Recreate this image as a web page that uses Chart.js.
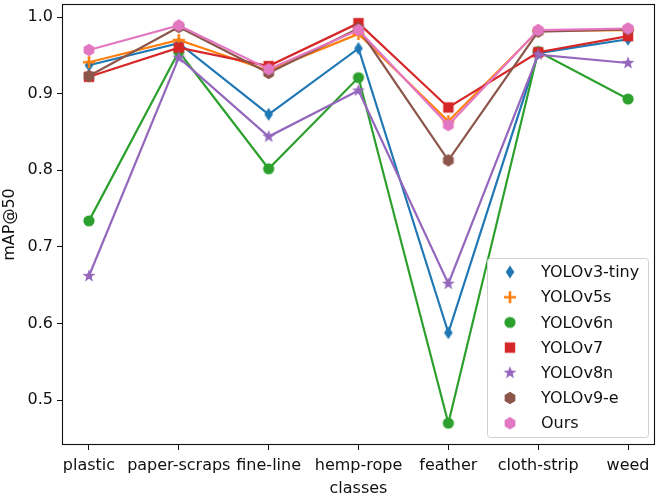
<!DOCTYPE html>
<html>
<head>
<meta charset="utf-8">
<script src="https://cdn.jsdelivr.net/npm/chart.js@4"></script>
<style>
html,body{margin:0;padding:0;background:#fff;}
#wrap{width:661px;height:496px;position:relative;}
</style>
</head>
<body>
<div id="wrap"><canvas id="c" width="661" height="496"></canvas></div>
<script>
const categories = ['plastic','paper-scraps','fine-line','hemp-rope','feather','cloth-strip','weed'];
const yTicks = [0.5,0.6,0.7,0.8,0.9,1.0];
const seriesNames = ['YOLOv3-tiny','YOLOv5s','YOLOv6n','YOLOv7','YOLOv8n','YOLOv9-e','Ours'];
const yolov3tiny = [0.937,0.966,0.873,0.959,0.588,0.953,0.971];
const yolov5s    = [0.941,0.970,0.930,0.978,0.864,0.982,0.983];
const yolov6n    = [0.734,0.955,0.802,0.921,0.470,0.955,0.893];
const yolov7     = [0.922,0.960,0.936,0.992,0.882,0.954,0.975];
const yolov8n    = [0.662,0.947,0.844,0.904,0.652,0.951,0.940];
const yolov9e    = [0.923,0.987,0.927,0.985,0.813,0.981,0.984];
const ours       = [0.957,0.989,0.932,0.983,0.859,0.983,0.985];
const seriesValues = [yolov3tiny,yolov5s,yolov6n,yolov7,yolov8n,yolov9e,ours];
const colors = ['#1f77b4','#ff7f0e','#2ca02c','#d62728','#9467bd','#8c564b','#e377c2'];
const markers = ['diamond','plus','circle','square','star','hexagon','hexagon'];

function makeMarker(kind, color){
  const s = 18;
  const cv = document.createElement('canvas');
  cv.width = s; cv.height = s;
  const g = cv.getContext('2d');
  const c = s/2;
  g.fillStyle = color; g.strokeStyle = color;
  g.beginPath();
  if (kind === 'diamond'){
    g.moveTo(c, c-6.5); g.lineTo(c+4.3, c); g.lineTo(c, c+6.5); g.lineTo(c-4.3, c); g.closePath(); g.fill();
  } else if (kind === 'plus'){
    g.lineWidth = 2.6;
    g.moveTo(c-6, c); g.lineTo(c+6, c); g.moveTo(c, c-6); g.lineTo(c, c+6); g.stroke();
  } else if (kind === 'circle'){
    g.arc(c, c, 5.6, 0, Math.PI*2); g.fill();
  } else if (kind === 'square'){
    g.rect(c-5.2, c-5.2, 10.4, 10.4); g.fill();
  } else if (kind === 'star'){
    const R = 6.8, r = 2.8;
    for (let i=0;i<10;i++){
      const a = -Math.PI/2 + i*Math.PI/5;
      const rr = i%2===0 ? R : r;
      const x = c + rr*Math.cos(a), y = c + rr*Math.sin(a);
      if (i===0) g.moveTo(x,y); else g.lineTo(x,y);
    }
    g.closePath(); g.fill();
  } else if (kind === 'hexagon'){
    const R = 6.2;
    for (let i=0;i<6;i++){
      const a = -Math.PI/2 + i*Math.PI/3;
      const x = c + R*Math.cos(a), y = c + R*Math.sin(a);
      if (i===0) g.moveTo(x,y); else g.lineTo(x,y);
    }
    g.closePath(); g.fill();
  }
  return cv;
}

const markerImgs = markers.map((m,i)=>makeMarker(m, colors[i]));

const datasets = seriesNames.map((name,i)=>({
  label: name,
  data: seriesValues[i].map((v,j)=>({x:j, y:v})),
  borderColor: colors[i],
  backgroundColor: colors[i],
  borderWidth: 2.2,
  pointStyle: markerImgs[i],
  pointRadius: 6,
  pointHoverRadius: 6,
  tension: 0,
  fill: false,
  order: seriesNames.length - i
}));

const frame = {
  id: 'frame',
  afterDatasetsDraw(chart){
    const {ctx, chartArea:a} = chart;
    ctx.save();
    ctx.strokeStyle = '#111';
    ctx.lineWidth = 1.1;
    ctx.strokeRect(a.left+0.5, a.top+0.5, a.right-a.left-1, a.bottom-a.top-1);
    ctx.restore();
  }
};

const legendBox = {
  id: 'legendBox',
  afterDraw(chart){
    const ctx = chart.ctx;
    const x0 = 487, y0 = 258, w = 161, h = 179;
    ctx.save();
    ctx.fillStyle = 'rgba(255,255,255,0.85)';
    ctx.strokeStyle = '#d0d0d0';
    ctx.lineWidth = 1;
    ctx.beginPath();
    ctx.roundRect(x0+0.5, y0+0.5, w, h, 3);
    ctx.fill(); ctx.stroke();
    ctx.font = '16px "DejaVu Sans"';
    ctx.textBaseline = 'middle';
    ctx.fillStyle = '#111';
    seriesNames.forEach((name,i)=>{
      const cy = 272 + i*25.2;
      const img = markerImgs[i];
      ctx.drawImage(img, 510 - img.width/2, cy - img.height/2);
      ctx.fillText(name, 541, cy+1);
    });
    ctx.restore();
  }
};

new Chart(document.getElementById('c'), {
  type: 'line',
  data: { datasets },
  options: {
    responsive: false,
    animation: false,
    devicePixelRatio: 1,
    layout: { autoPadding: false, padding: { top: 4, right: 6, left: 0, bottom: 0 } },
    plugins: { legend: { display: false }, tooltip: { enabled: false } },
    scales: {
      x: {
        type: 'linear',
        min: -0.3, max: 6.3,
        afterFit: s => { s.height = 51; s.paddingLeft = 0; s.paddingRight = 0; },
        afterBuildTicks: s => { s.ticks = categories.map((c,i)=>({value:i})); },
        ticks: {
          autoSkip: false, maxRotation: 0, padding: 6,
          color: '#111', font: { family: 'DejaVu Sans', size: 16 },
          callback: v => categories[v]
        },
        grid: { drawOnChartArea: false, drawTicks: true, tickLength: 5, tickColor: '#111' },
        border: { display: false },
        title: { display: true, text: 'classes', color: '#111', font: { family: 'DejaVu Sans', size: 16 }, padding: { top: 0, bottom: -2 } }
      },
      y: {
        type: 'linear',
        min: 0.4415, max: 1.017,
        afterFit: s => { s.width = 62; s.paddingTop = 0; s.paddingBottom = 0; },
        afterBuildTicks: s => { s.ticks = yTicks.map(v=>({value:v})); },
        ticks: {
          padding: 4, color: '#111', font: { family: 'DejaVu Sans', size: 16 },
          callback: v => v.toFixed(1)
        },
        grid: { drawOnChartArea: false, drawTicks: true, tickLength: 5, tickColor: '#111' },
        border: { display: false },
        title: { display: true, text: 'mAP@50', color: '#111', font: { family: 'DejaVu Sans', size: 16 }, padding: { top: 0, bottom: 0 } }
      }
    }
  },
  plugins: [frame, legendBox]
});
</script>
</body>
</html>
